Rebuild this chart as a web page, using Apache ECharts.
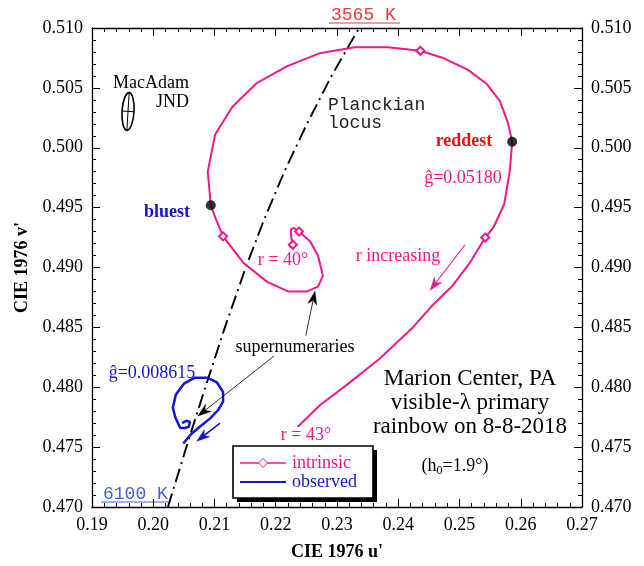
<!DOCTYPE html>
<html>
<head>
<meta charset="utf-8">
<script src="https://cdn.jsdelivr.net/npm/echarts@6/dist/echarts.min.js"></script>
<style>
html,body{margin:0;padding:0;background:#fff;}
#chart{width:644px;height:566px;}
</style>
</head>
<body>
<div id="chart"></div>
<script>
// ---------------- data ----------------
const intrinsicU = [0.2222,0.2228,0.2225,0.2225,0.2230,0.2238,0.2256,0.2269,0.2277,0.2269,0.2251,0.2220,0.2186,0.2147,0.2114,0.2101,0.2094,0.2089,0.2101,0.2129,0.2169,0.2218,0.2272,0.2329,0.2383,0.2436,0.2473,0.2514,0.2545,0.2566,0.2579,0.2586,0.2582,0.2573,0.2556,0.2542,0.2517,0.2489,0.2455,0.2422,0.2370,0.2316,0.2272,0.2236];
const intrinsicV = [0.4917,0.4919,0.4926,0.4932,0.4933,0.4930,0.4922,0.4910,0.4893,0.4884,0.4880,0.4880,0.4888,0.4904,0.4926,0.4942,0.4952,0.4980,0.5011,0.5034,0.5054,0.5068,0.5079,0.5084,0.5084,0.5081,0.5075,0.5065,0.5053,0.5039,0.5021,0.5005,0.4980,0.4953,0.4934,0.4925,0.4904,0.4885,0.4868,0.4849,0.4824,0.4802,0.4785,0.4767];
const diamondIdx = [1,5,14,25,35];
const extremeIdx = [16,31]; // bluest, reddest

const observedU = [0.2047,0.2054,0.2060,0.2058,0.2052,0.2044,0.2036,0.2032,0.2037,0.2050,0.2068,0.2088,0.2104,0.2114,0.2114,0.2106,0.2093,0.2076,0.2062,0.2049];
const observedV = [0.4770,0.4772,0.4771,0.4767,0.4766,0.4766,0.4775,0.4783,0.4794,0.4803,0.4808,0.4808,0.4804,0.4796,0.4788,0.4781,0.4774,0.4767,0.4761,0.4753];

const planckU = [0.2024,0.2054,0.2085,0.2117,0.2151,0.2181,0.2214,0.2251,0.2291,0.2336];
const planckV = [0.4700,0.4750,0.4800,0.4850,0.4900,0.4940,0.4980,0.5020,0.5060,0.5100];

const arrowStartU = [0.2509,0.2249,0.2197,0.2109];
const arrowStartV = [0.4919,0.4843,0.4826,0.4770];
const arrowEndU   = [0.2452,0.2264,0.2073,0.2071];
const arrowEndV   = [0.4881,0.4880,0.4776,0.4755];

const jndCenter = [0.19588, 0.50303];
const jndSemiAxes = [0.00098, 0.00158];

const xTicks = {min:0.19, max:0.27, step:0.01};
const yTicks = {min:0.470, max:0.510, step:0.005};

const legendNames = ['intrinsic','observed'];

// ---------------- styles ----------------
const PINK = '#f3178b';
const BLUE = '#1414d4';
const SERIF = '"Liberation Serif","Times New Roman",serif';
const MONO = '"Liberation Mono","Courier New",monospace';
const arrowColors = [PINK,'#000','#000',BLUE];
const arrowWidths = [1.1,0.8,0.8,1.6];

const chart = echarts.init(document.getElementById('chart'), null, {renderer:'canvas'});

const intrinsicData = intrinsicU.map((u,i)=>{
  const d = {value:[u,intrinsicV[i]]};
  if (diamondIdx.indexOf(i) < 0) d.symbol = 'none';
  return d;
});
const observedData = observedU.map((u,i)=>[u,observedV[i]]);
const planckData = planckU.map((u,i)=>[u,planckV[i]]);
const extremeData = extremeIdx.map(i=>[intrinsicU[i],intrinsicV[i]]);

function axisCommon(){
  return {
    type:'value',
    axisLine:{show:true,onZero:false,lineStyle:{color:'#000',width:1.3}},
    axisTick:{show:true,inside:true,length:8,lineStyle:{color:'#000',width:1}},
    minorTick:{show:true,splitNumber:5,length:4,lineStyle:{color:'#000',width:1}},
    splitLine:{show:false},
    minorSplitLine:{show:false}
  };
}

const option = {
  animation:false,
  backgroundColor:'#fff',
  grid:{left:92,right:62,top:28,bottom:55,containLabel:false},
  xAxis:[
    Object.assign(axisCommon(),{
      min:xTicks.min,max:xTicks.max,interval:xTicks.step,position:'bottom',
      axisLabel:{formatter:v=>v.toFixed(2),fontFamily:SERIF,fontSize:18,color:'#000',margin:9},
      name:"CIE 1976 u'",nameLocation:'middle',nameGap:36,
      nameTextStyle:{fontFamily:SERIF,fontSize:18,fontWeight:'bold',color:'#000'}
    }),
    Object.assign(axisCommon(),{
      min:xTicks.min,max:xTicks.max,interval:xTicks.step,position:'top',
      axisLabel:{show:false}
    })
  ],
  yAxis:[
    Object.assign(axisCommon(),{
      min:yTicks.min,max:yTicks.max,interval:yTicks.step,position:'left',
      axisLabel:{formatter:v=>v.toFixed(3),fontFamily:SERIF,fontSize:18,color:'#000',margin:9},
      name:"CIE 1976 v'",nameLocation:'middle',nameGap:60,nameRotate:90,
      nameTextStyle:{fontFamily:SERIF,fontSize:18,fontWeight:'bold',color:'#000'}
    }),
    Object.assign(axisCommon(),{
      min:yTicks.min,max:yTicks.max,interval:yTicks.step,position:'right',
      axisLabel:{formatter:v=>v.toFixed(3),fontFamily:SERIF,fontSize:18,color:'#000',margin:9}
    })
  ],
  series:[
    {name:'Planckian locus',type:'line',data:planckData,symbol:'none',silent:true,
     lineStyle:{color:'#000',width:1.9,type:[14,5,2,5]},z:1},
    {name:legendNames[0],type:'line',data:intrinsicData,symbol:'emptyDiamond',symbolSize:8,showSymbol:true,
     itemStyle:{color:PINK,borderColor:PINK,borderWidth:1},lineStyle:{color:PINK,width:2},z:3},
    {name:legendNames[1],type:'line',data:observedData,symbol:'none',
     itemStyle:{color:BLUE},lineStyle:{color:BLUE,width:2.5},z:3},
    {name:'extremes',type:'scatter',data:extremeData,symbol:'circle',symbolSize:10,
     itemStyle:{color:'#000'},z:5}
  ]
};
chart.setOption(option);

function px(u,v){ return chart.convertToPixel({xAxisIndex:0,yAxisIndex:0},[u,v]); }

function txt(x,y,text,opt){
  opt = opt||{};
  return {type:'text',x:x,y:y,silent:true,z:10,
    style:Object.assign({text:text,fill:opt.fill||'#000',
      font:(opt.weight||'normal')+' '+(opt.size||18)+'px '+(opt.family||SERIF),
      align:opt.align||'center',verticalAlign:'middle'},opt.extra||{})};
}

function arrow(p0,p1,color,width,headLen,headW){
  const dx=p1[0]-p0[0], dy=p1[1]-p0[1];
  const L=Math.sqrt(dx*dx+dy*dy), ux=dx/L, uy=dy/L, nx=-uy, ny=ux;
  const bx=p1[0]-ux*headLen, by=p1[1]-uy*headLen;
  const mx=p1[0]-ux*headLen*0.7, my=p1[1]-uy*headLen*0.7;
  return [
    {type:'line',silent:true,z:6,shape:{x1:p0[0],y1:p0[1],x2:mx,y2:my},style:{stroke:color,lineWidth:width}},
    {type:'polygon',silent:true,z:6,shape:{points:[[p1[0],p1[1]],[bx+nx*headW,by+ny*headW],[mx,my],[bx-nx*headW,by-ny*headW]]},
      style:{fill:color,stroke:color,lineWidth:0.5}}
  ];
}

const c = px(jndCenter[0],jndCenter[1]);
const e = px(jndCenter[0]+jndSemiAxes[0], jndCenter[1]+jndSemiAxes[1]);
const rx = Math.abs(e[0]-c[0]), ry = Math.abs(e[1]-c[1]);

let graphics = [
  // MacAdam JND
  txt(189,83,'MacAdam',{align:'right',size:18}),
  txt(189,102,'JND',{align:'right',size:18}),
  {type:'group',x:c[0],y:c[1],rotation:-0.06,silent:true,children:[
    {type:'ellipse',shape:{cx:0,cy:0,rx:rx,ry:ry},style:{fill:'none',stroke:'#000',lineWidth:1.6}},
    {type:'line',shape:{x1:0,y1:-ry,x2:0,y2:ry},style:{stroke:'#000',lineWidth:1}},
    {type:'line',shape:{x1:-rx,y1:0,x2:rx,y2:0},style:{stroke:'#000',lineWidth:1}}
  ]},
  // Planckian labels
  txt(328,105,'Planckian',{align:'left',family:MONO,size:18,fill:'#222'}),
  txt(328,123,'locus',{align:'left',family:MONO,size:18,fill:'#222'}),
  txt(331,15,'3565 K',{align:'left',family:MONO,size:18,fill:'#e23a3a'}),
  {type:'line',silent:true,shape:{x1:329,y1:23,x2:400,y2:23},style:{stroke:'#e23a3a',lineWidth:1}},
  txt(103,494,'6100 K',{align:'left',family:MONO,size:18,fill:'#4a5ce6'}),
  {type:'line',silent:true,shape:{x1:101,y1:502,x2:171,y2:502},style:{stroke:'#4a5ce6',lineWidth:1}},
  // series labels
  txt(167,212,'bluest',{weight:'bold',fill:'#1414c8'}),
  txt(464,141,'reddest',{weight:'bold',fill:'#e01515'}),
  txt(463,178,'\u011d=0.05180',{fill:PINK}),
  txt(283,260,'r = 40\u00b0',{fill:PINK}),
  txt(398,256,'r increasing',{fill:PINK}),
  txt(306,435,'r = 43\u00b0',{fill:PINK}),
  txt(295,347,'supernumeraries',{}),
  txt(152,373,'\u011d=0.008615',{fill:BLUE}),
  // title block
  txt(470,379,'Marion Center, PA',{size:23}),
  txt(470,403,'visible-\u03bb primary',{size:23}),
  txt(470,427,'rainbow on 8-8-2018',{size:23}),
  {type:'text',x:455,y:466,silent:true,z:10,style:{text:'(h{s|0}=1.9\u00b0)',fill:'#000',
    font:'18px '+SERIF,align:'center',verticalAlign:'middle',
    rich:{s:{fontSize:12,fontFamily:SERIF,padding:[9,0,0,0]}}}},
  // legend box
  {type:'rect',silent:true,z:20,shape:{x:237,y:450,width:140,height:52},style:{fill:'#000'}},
  {type:'rect',silent:true,z:21,shape:{x:233,y:446,width:140,height:52},style:{fill:'#fff',stroke:'#000',lineWidth:1.6}},
  {type:'line',silent:true,z:22,shape:{x1:240,y1:463,x2:286,y2:463},style:{stroke:PINK,lineWidth:1.6}},
  {type:'polygon',silent:true,z:23,shape:{points:[[263,458.5],[267.5,463],[263,467.5],[258.5,463]]},style:{fill:'#fff',stroke:PINK,lineWidth:1}},
  {type:'text',silent:true,z:22,x:292,y:463,style:{text:legendNames[0],fill:PINK,font:'18px '+SERIF,align:'left',verticalAlign:'middle'}},
  {type:'line',silent:true,z:22,shape:{x1:240,y1:482,x2:286,y2:482},style:{stroke:BLUE,lineWidth:1.8}},
  {type:'text',silent:true,z:22,x:292,y:482,style:{text:legendNames[1],fill:BLUE,font:'18px '+SERIF,align:'left',verticalAlign:'middle'}}
];
arrowStartU.forEach((u,i)=>{
  const p0 = px(u,arrowStartV[i]);
  const p1 = px(arrowEndU[i],arrowEndV[i]);
  graphics = graphics.concat(arrow(p0,p1,arrowColors[i],arrowWidths[i],13,4.5));
});
chart.setOption({graphic:graphics});
</script>
</body>
</html>
